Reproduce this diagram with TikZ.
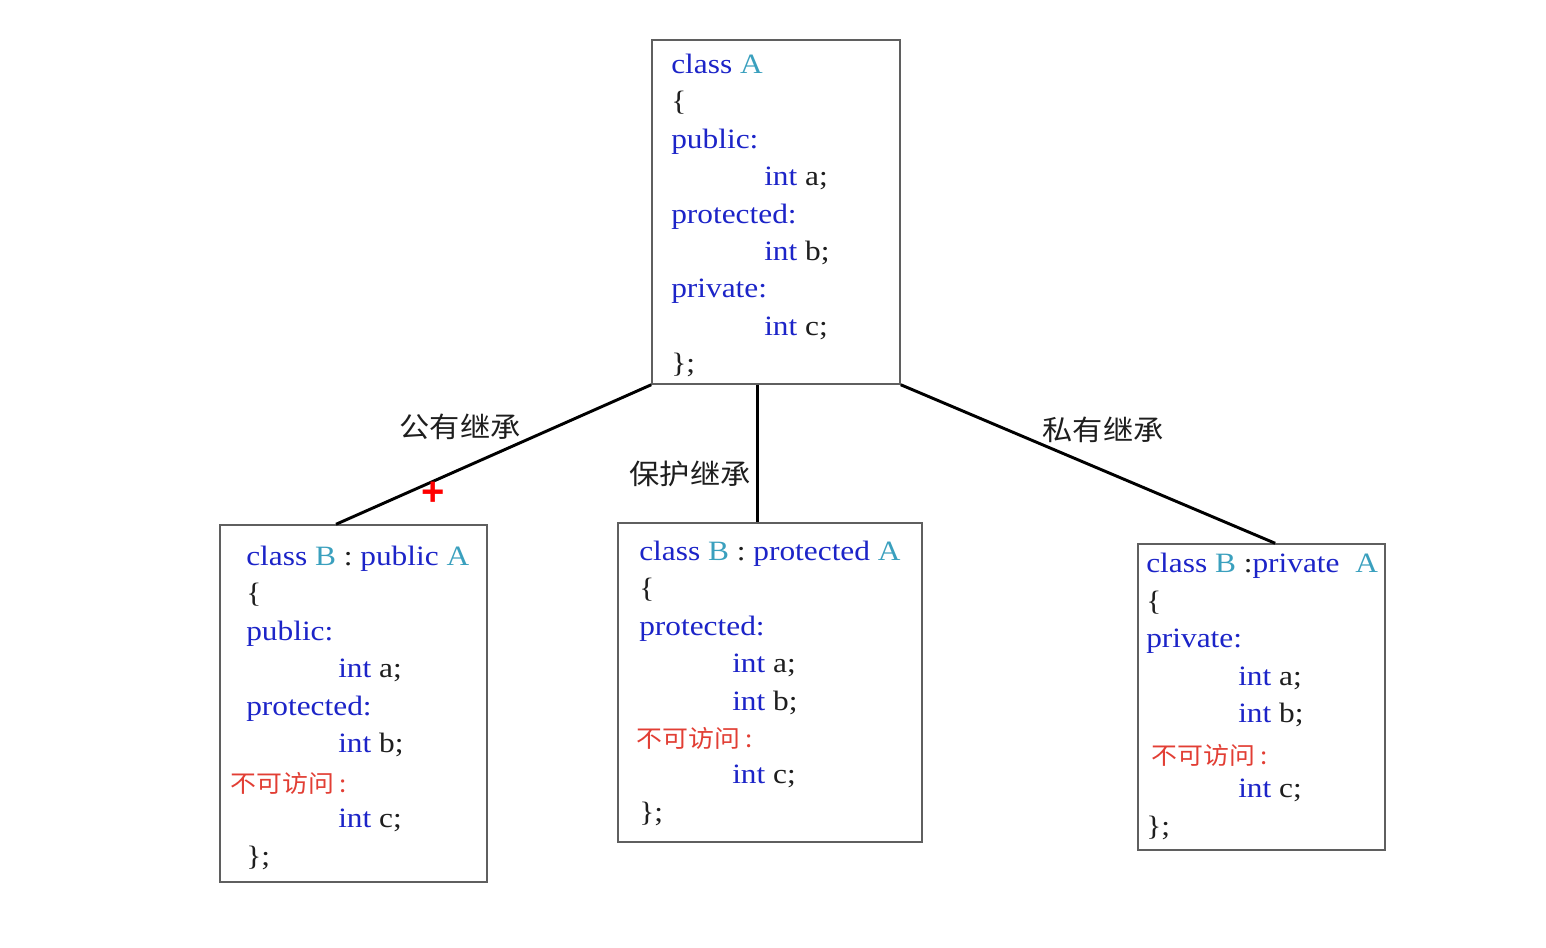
\documentclass[tikz,border=0pt]{standalone}
\usepackage{fontspec}
\usepackage{xcolor}
\setmainfont[FakeStretch=1.12]{Liberation Serif}
\newfontfamily\cjk[FakeStretch=1.08]{Noto Sans CJK SC}
\newfontfamily\marksans{Liberation Sans}
\usetikzlibrary{positioning,fit,calc}

\definecolor{kwblue}{RGB}{28,36,200}
\definecolor{clsteal}{RGB}{58,160,190}
\definecolor{txtblack}{RGB}{30,30,30}
\definecolor{accred}{RGB}{226,62,52}
\definecolor{boxgray}{RGB}{95,95,95}

\newcommand{\kwd}[1]{\textcolor{kwblue}{#1}}
\newcommand{\clsn}[1]{\textcolor{clsteal}{#1}}
\newcommand{\noacc}[1]{{\cjk\fontsize{18}{20}\selectfont\textcolor{accred}{#1}}}

\begin{document}
\begin{tikzpicture}[x=0.75pt,y=-0.75pt,
    classbox/.style={draw=boxgray,line width=1.1pt,inner sep=0pt,fill=white},
    codeline/.style={anchor=base west,inner sep=0pt,text=txtblack,
                     font=\fontsize{21}{25}\selectfont},
    inherit/.style={draw=black,line width=2.2pt},
    cjklabel/.style={inner sep=0pt,text=txtblack,
                     font=\cjk\fontsize{21}{24}\selectfont}]
  \useasboundingbox[fill=white] (0,0) rectangle (1546,947);

  % ---------------- base class ----------------
  \node[classbox,fit={(652,40) (900,384)}] (A) {};
  \foreach \yy/\xx/\txt [count=\i] in {
      73/671/{\kwd{class} \clsn{A}},
      110/671/\{,
      148/671/{\kwd{public:}},
      185/764/{\kwd{int} a;},
      223/671/{\kwd{protected:}},
      260/764/{\kwd{int} b;},
      297/671/{\kwd{private:}},
      335/764/{\kwd{int} c;},
      372/671/\};}{
    \node[codeline] (A-\i) at (\xx,\yy) {\txt};
  }

  % ---------------- public inheritance ----------------
  \node[classbox,fit={(220,525) (487,882)}] (B1) {};
  \foreach \yy/\xx/\txt [count=\i] in {
      565/246/{\kwd{class} \clsn{B} : \kwd{public} \clsn{A}},
      602/246/\{,
      640/246/{\kwd{public:}},
      677/338/{\kwd{int} a;},
      715/246/{\kwd{protected:}},
      752/338/{\kwd{int} b;},
      792/230/{\noacc{不可访问 :}},
      827/338/{\kwd{int} c;},
      865/246/\};}{
    \node[codeline] (B1-\i) at (\xx,\yy) {\txt};
  }

  % ---------------- protected inheritance ----------------
  \node[classbox,fit={(618,523) (922,842)}] (B2) {};
  \foreach \yy/\xx/\txt [count=\i] in {
      560/639/{\kwd{class} \clsn{B} : \kwd{protected} \clsn{A}},
      597/639/\{,
      635/639/{\kwd{protected:}},
      672/732/{\kwd{int} a;},
      710/732/{\kwd{int} b;},
      747/636/{\noacc{不可访问 :}},
      783/732/{\kwd{int} c;},
      821/639/\};}{
    \node[codeline] (B2-\i) at (\xx,\yy) {\txt};
  }

  % ---------------- private inheritance ----------------
  \node[classbox,fit={(1138,544) (1385,850)}] (B3) {};
  \foreach \yy/\xx/\txt [count=\i] in {
      572/1146/{\kwd{class} \clsn{B} :\kwd{private}\ \ \clsn{A}},
      610/1146/\{,
      647/1146/{\kwd{private:}},
      685/1238/{\kwd{int} a;},
      722/1238/{\kwd{int} b;},
      764/1151/{\noacc{不可访问 :}},
      797/1238/{\kwd{int} c;},
      835/1146/\};}{
    \node[codeline] (B3-\i) at (\xx,\yy) {\txt};
  }

  % ---------------- connectors ----------------
  \coordinate (b2top) at ($(B2.north west)!0.459!(B2.north east)$);
  \draw[inherit] (A.south west) -- ($(B1.north west)!0.435!(B1.north east)$);
  \draw[inherit] (A.south -| b2top) -- (b2top);
  \draw[inherit] (A.south east) -- ($(B3.north west)!0.555!(B3.north east)$);

  \node[cjklabel] (lblpub)  at (460,427)  {公有继承};
  \node[cjklabel] (lblprot) at (690,474)  {保护继承};
  \node[cjklabel] (lblpriv) at (1103,430) {私有继承};

  % cursor mark
  \node[inner sep=0pt,text=red,font=\marksans\bfseries\fontsize{30}{30}\selectfont]
       (cursor) at (433,494) {+};
\end{tikzpicture}
\end{document}
